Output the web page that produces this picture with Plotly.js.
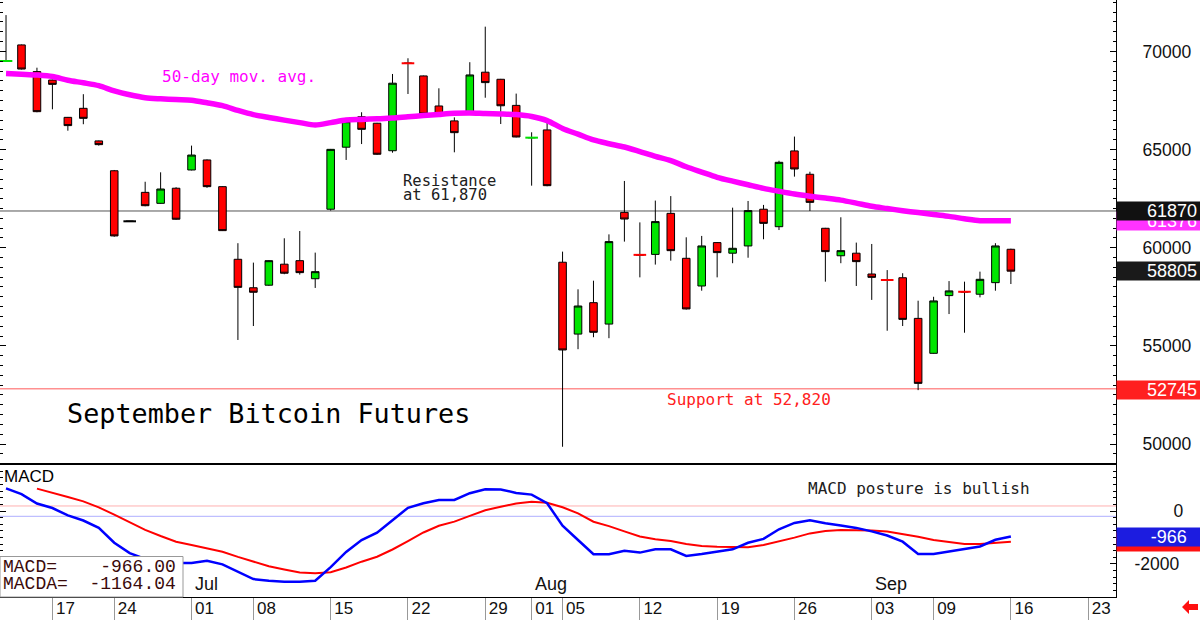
<!DOCTYPE html>
<html><head><meta charset="utf-8">
<script src="https://cdn.plot.ly/plotly-3.0.1.min.js"></script>
<style>html,body{margin:0;padding:0;background:#fff;}#chart{width:1200px;height:620px;}</style>
</head><body><div id="chart"></div>
<script>
// ---------------- data ----------------
const candleDates = ['2024-06-12','2024-06-13','2024-06-14','2024-06-17','2024-06-18','2024-06-20','2024-06-21','2024-06-24','2024-06-25','2024-06-26','2024-06-27','2024-06-28',
 '2024-07-01','2024-07-02','2024-07-03','2024-07-05','2024-07-08','2024-07-09','2024-07-10','2024-07-11','2024-07-12','2024-07-15','2024-07-16','2024-07-17','2024-07-18','2024-07-19','2024-07-22','2024-07-23','2024-07-24','2024-07-25','2024-07-26','2024-07-29','2024-07-30','2024-07-31',
 '2024-08-01','2024-08-02','2024-08-05','2024-08-06','2024-08-07','2024-08-08','2024-08-09','2024-08-12','2024-08-13','2024-08-14','2024-08-15','2024-08-16','2024-08-19','2024-08-20','2024-08-21','2024-08-22','2024-08-23','2024-08-26','2024-08-27','2024-08-28','2024-08-29','2024-08-30',
 '2024-09-03','2024-09-04','2024-09-05','2024-09-06','2024-09-09','2024-09-10','2024-09-11','2024-09-12','2024-09-13','2024-09-16'];
const futureDates = ['2024-09-17','2024-09-18','2024-09-19','2024-09-20','2024-09-23','2024-09-24','2024-09-25'];

const openP  = [69500,70330,68970,68540,66640,67100,65440,63920,61345,62820,62260,63030,63960,64470,63110,59410,57960,58090,59160,59340,58420,61960,65120,66670,66340,64940,69400,68750,67220,66460,66850,68940,68580,67250,65600,66000,59260,55600,57200,56110,61800,59640,59660,61750,59460,58050,60260,59720,60090,61960,61070,64930,63740,60990,59590,59720,58660,58360,58470,56400,54620,57560,57760,57630,58220,59920];
const highP  = [71850,70350,69170,68560,66660,67820,65460,63960,61345,63360,63840,63080,65200,64500,63130,60230,59240,59360,60480,60850,59750,65030,66440,66900,66360,68850,69650,68770,68120,66640,69450,71260,68600,67850,65880,66370,59800,57880,58320,60680,63400,61290,62400,62630,60530,60600,60290,62040,62380,62180,64430,65660,63870,61010,61550,60260,60190,58860,58700,57300,57500,58300,58270,58780,60230,59950];
const lowP   = [69490,69080,66900,67050,65960,66290,65200,60560,61345,62110,62240,61420,63940,63050,60850,55300,56010,58060,58650,58630,57950,61890,64470,65280,64730,64840,67830,66730,66790,64860,66830,67640,66300,65620,63160,63130,49860,54830,55440,55390,60310,58490,59140,59340,56850,57810,58490,59210,59490,60430,60900,63620,61870,58270,59210,58050,57340,55770,56010,52745,54600,56620,55670,57470,57810,58150];
const closeP = [69520,69100,66930,68320,66220,66590,65250,60600,61345,62140,62990,61450,64720,63110,60870,57980,57730,59340,58700,58730,58780,65010,66420,66030,64760,68380,69390,66810,66810,65860,68800,68410,67230,65640,65610,63160,54790,57030,55690,60310,61460,59630,61330,59850,56880,60090,59750,59970,61890,61240,64350,64010,62310,59800,59850,59290,58490,58350,56350,53090,57290,57800,57750,58390,60090,58805];
const ma50   = [68879,68839,68798,68721,68533,68400,68253,67988,67789,67641,67585,67545,67514,67382,67234,66995,66781,66633,66500,66373,66251,66373,66506,66536,66567,66602,66669,66730,66791,66847,66867,66837,66816,66781,66684,66475,66073,65782,65487,65298,65130,64896,64656,64437,64122,63852,63587,63388,63205,63021,62873,62736,62624,62527,62425,62272,62109,61997,61885,61788,61687,61595,61478,61376,61376,61376];
const macd   = [853,634,283,113,-166,-359,-638,-1196,-1589,-1808,-1906,-1962,-1959,-1876,-2015,-2298,-2570,-2630,-2668,-2668,-2630,-2117,-1544,-1098,-819,-347,121,294,415,415,672,819,815,683,619,294,-555,-1094,-1634,-1634,-1502,-1570,-1445,-1445,-1698,-1623,-1547,-1445,-1200,-1053,-691,-449,-347,-460,-543,-638,-770,-925,-1159,-1623,-1623,-1532,-1457,-1340,-1087,-966];
const macdAvg= [null,null,845,698,528,362,136,-140,-423,-713,-944,-1159,-1283,-1408,-1540,-1732,-1921,-2087,-2208,-2321,-2351,-2310,-2132,-1913,-1725,-1453,-1140,-811,-559,-400,-185,30,162,287,351,313,143,-87,-404,-570,-770,-962,-1068,-1132,-1245,-1321,-1347,-1370,-1370,-1283,-1155,-1004,-845,-755,-717,-717,-740,-777,-868,-974,-1094,-1181,-1245,-1245,-1196,-1164.04];

const resistance = 61870;
const support = 52820;
const swingLowDate = '2024-09-06';
const tickDates  = ['2024-06-17','2024-06-24','2024-07-01','2024-07-08','2024-07-15','2024-07-22','2024-07-29','2024-08-01','2024-08-05','2024-08-12','2024-08-19','2024-08-26','2024-09-03','2024-09-09','2024-09-16','2024-09-23'];
const tickLabels = ['17','24','01','08','15','22','29','01','05','12','19','26','03','09','16','23'];
const monthStarts = ['2024-07-01','2024-08-01','2024-09-03'];
const monthLabels = ['Jul','Aug','Sep'];
const priceTicks = [50000,55000,60000,65000,70000];
const macdTicks = [0,-2000];
const macdTickText = ['\u2007\u2007\u2007\u20070','-2000'];

// ---------------- geometry (pixels) ----------------
const W = 1200, H = 620, ML = 0, MR = 84, MT = 0, MB = 23;
const PW = W - ML - MR, PH = H - MT - MB;
const splitPx = 464;
const split = (PH - splitPx) / PH;
const px = x => x / PW;
const py = y => (PH - y) / PH;

const allDays = candleDates.concat(futureDates);
const last = candleDates.length - 1;

const dojiX = [], dojiY = [], dojiC = [];
candleDates.forEach((d, i) => {
  const diff = closeP[i] - openP[i];
  if (Math.abs(diff) <= 20) {
    dojiX.push(d); dojiY.push((openP[i] + closeP[i]) / 2);
    dojiC.push(diff > 0 ? '#00e000' : diff < 0 ? '#ff0000' : '#000000');
  }
});

const mono = 'DejaVu Sans Mono, monospace';
const sans = 'Liberation Sans, Arial, sans-serif';

const traces = [
  {type:'scatter', mode:'lines', x:candleDates, y:ma50, xaxis:'x', yaxis:'y',
   line:{color:'#ff00ff', width:5.5, shape:'spline', smoothing:0.8}, hoverinfo:'skip'},
  {type:'candlestick', x:candleDates, open:openP, high:highP, low:lowP, close:closeP, xaxis:'x', yaxis:'y',
   increasing:{line:{color:'#000', width:1}, fillcolor:'#00e600'},
   decreasing:{line:{color:'#000', width:1}, fillcolor:'#ff0000'},
   whiskerwidth:0, hoverinfo:'skip'},
  {type:'scatter', mode:'markers', x:dojiX, y:dojiY, xaxis:'x', yaxis:'y',
   marker:{symbol:'line-ew', size:9, line:{width:2, color:dojiC}}, hoverinfo:'skip'},
  {type:'scatter', mode:'lines', x:candleDates, y:macdAvg, xaxis:'x', yaxis:'y2',
   line:{color:'#ff0000', width:2}, hoverinfo:'skip'},
  {type:'scatter', mode:'lines', x:candleDates, y:macd, xaxis:'x', yaxis:'y2',
   line:{color:'#0000ff', width:2.5}, hoverinfo:'skip'}
];

const tickFont = {family:sans, size:17.5, color:'#111'};

const layout = {
  width:W, height:H, margin:{l:ML, r:MR, t:MT, b:MB, pad:0},
  paper_bgcolor:'#fff', plot_bgcolor:'#fff', showlegend:false, dragmode:false,
  xaxis:{type:'category', categoryorder:'array', categoryarray:allDays, range:[-0.39, 71.8],
    anchor:'y2', rangeslider:{visible:false}, showgrid:false, zeroline:false,
    showline:true, linecolor:'#000', linewidth:1,
    ticks:'outside', ticklen:23, tickcolor:'#999', tickwidth:1,
    tickmode:'array', tickvals:tickDates, ticktext:tickLabels,
    tickfont:{family:sans, size:17, color:'#111'}, ticklabelshift:13, ticklabelstandoff:-27},
  yaxis:{domain:[split, 1], range:[48982, 72618], side:'right', anchor:'x',
    showgrid:false, zeroline:false, showline:true, linecolor:'#000', linewidth:1, mirror:'ticks',
    tickmode:'array', tickvals:priceTicks, ticktext:priceTicks.map(String),
    ticks:'inside', ticklen:6, tickcolor:'#000',
    minor:{tickmode:'linear', tick0:50000, dtick:500, ticks:'inside', ticklen:3, tickcolor:'#000'},
    tickfont:tickFont, ticklabelstandoff:22},
  yaxis2:{domain:[0, split], range:[-3246, 1774], side:'right', anchor:'x',
    showgrid:false, zeroline:false, showline:true, linecolor:'#000', linewidth:1, mirror:'ticks',
    tickmode:'array', tickvals:macdTicks, ticktext:macdTickText,
    ticks:'inside', ticklen:6, tickcolor:'#000',
    minor:{tickmode:'linear', tick0:0, dtick:250, ticks:'inside', ticklen:3, tickcolor:'#000'},
    tickfont:tickFont, ticklabelstandoff:14},
  shapes:[
    {type:'line', xref:'paper', yref:'y', x0:0, x1:1, y0:resistance, y1:resistance, line:{color:'#555', width:1}, layer:'below'},
    {type:'line', xref:'paper', yref:'y', x0:0, x1:1, y0:support, y1:support, line:{color:'#ff9090', width:1.5}, layer:'below'},
    {type:'line', xref:'paper', yref:'y2', x0:0, x1:1, y0:190, y1:190, line:{color:'#ffb0b0', width:1}, layer:'below'},
    {type:'line', xref:'paper', yref:'y2', x0:0, x1:1, y0:-200, y1:-200, line:{color:'#b0b0ff', width:1}, layer:'below'},
    {type:'line', xref:'paper', yref:'paper', x0:0, x1:1, y0:split, y1:split, line:{color:'#000', width:2}},
    {type:'rect', xref:'paper', yref:'paper', x0:0, x1:px(183), y0:0, y1:py(556.5), fillcolor:'#fff', line:{color:'#999', width:1}, layer:'above'},
    {type:'path', xref:'paper', yref:'paper', fillcolor:'#ff1010', line:{width:0},
     path:`M ${px(1182)},${py(607)} L ${px(1189)},${py(600)} L ${px(1189)},${py(604)} L ${px(1198)},${py(604)} L ${px(1198)},${py(610)} L ${px(1189)},${py(610)} L ${px(1189)},${py(614)} Z`}
  ],
  annotations:[]
};

const A = layout.annotations;
function txt(text, xPx, yPx, font, extra) {
  A.push(Object.assign({text:text, xref:'paper', yref:'paper', x:px(xPx), y:py(yPx),
    xanchor:'left', yanchor:'middle', showarrow:false, font:font}, extra || {}));
}
txt('50-day mov. avg.', 160, 77, {family:mono, size:16, color:'#ff00ff'});
txt('Resistance', 401, 181, {family:mono, size:15.5, color:'#202020'});
txt('at 61,870', 401, 195, {family:mono, size:15.5, color:'#202020'});
txt('Support at 52,820', 665, 400, {family:mono, size:16, color:'#ff2020'});
txt('September Bitcoin Futures', 65, 413, {family:mono, size:26.8, color:'#000'});
txt('MACD posture is bullish', 806, 488, {family:mono, size:16, color:'#202020'});
txt('MACD', 2, 476, {family:sans, size:17, color:'#000'});
const boxFont = {family:'Liberation Mono, monospace', size:18, color:'#3a0a0a'};
txt('MACD=\u00a0\u00a0\u00a0\u00a0' + macd[last].toFixed(2), 1, 567, boxFont);
txt('MACDA=\u00a0\u00a0' + macdAvg[last].toFixed(2), 1, 584, boxFont);

monthStarts.forEach((d, i) => {
  A.push({text:monthLabels[i], xref:'x', yref:'paper', x:d, y:0, xanchor:'left', yanchor:'bottom',
    xshift:1, yshift:1, showarrow:false, font:{family:sans, size:18, color:'#111'}});
});

// right side value boxes (left aligned text padded with figure spaces)
function valBox(text, pad, yref, yv, bg, color) {
  A.push({text:pad + text, xref:'paper', yref:yref, x:1, y:yv, xanchor:'left', yanchor:'middle',
    width:84, height:18, align:'left', bgcolor:bg, borderpad:0, showarrow:false,
    font:{family:sans, size:18, color:color}});
}
const P3 = '\u2007\u2007\u2007';
const swingLow = lowP[candleDates.indexOf(swingLowDate)];
valBox(String(Math.round(ma50[last])), P3, 'y', ma50[last], '#ff33ff', '#fff');
valBox(String(resistance), P3, 'y', resistance, '#111', '#fff');
valBox(String(closeP[last]), P3, 'y', closeP[last], '#1a1a1a', '#fff');
valBox(String(swingLow), P3, 'y', swingLow, '#ff2020', '#fff');
valBox(String(Math.round(macdAvg[last])), P3 + '\u2009', 'y2', macdAvg[last], '#ff1010', '#ff1010');
valBox(String(Math.round(macd[last])), P3 + '\u2009', 'y2', macd[last], '#1c1ce0', '#fff');

Plotly.newPlot('chart', traces, layout, {staticPlot:true, displayModeBar:false});
</script>
</body></html>
